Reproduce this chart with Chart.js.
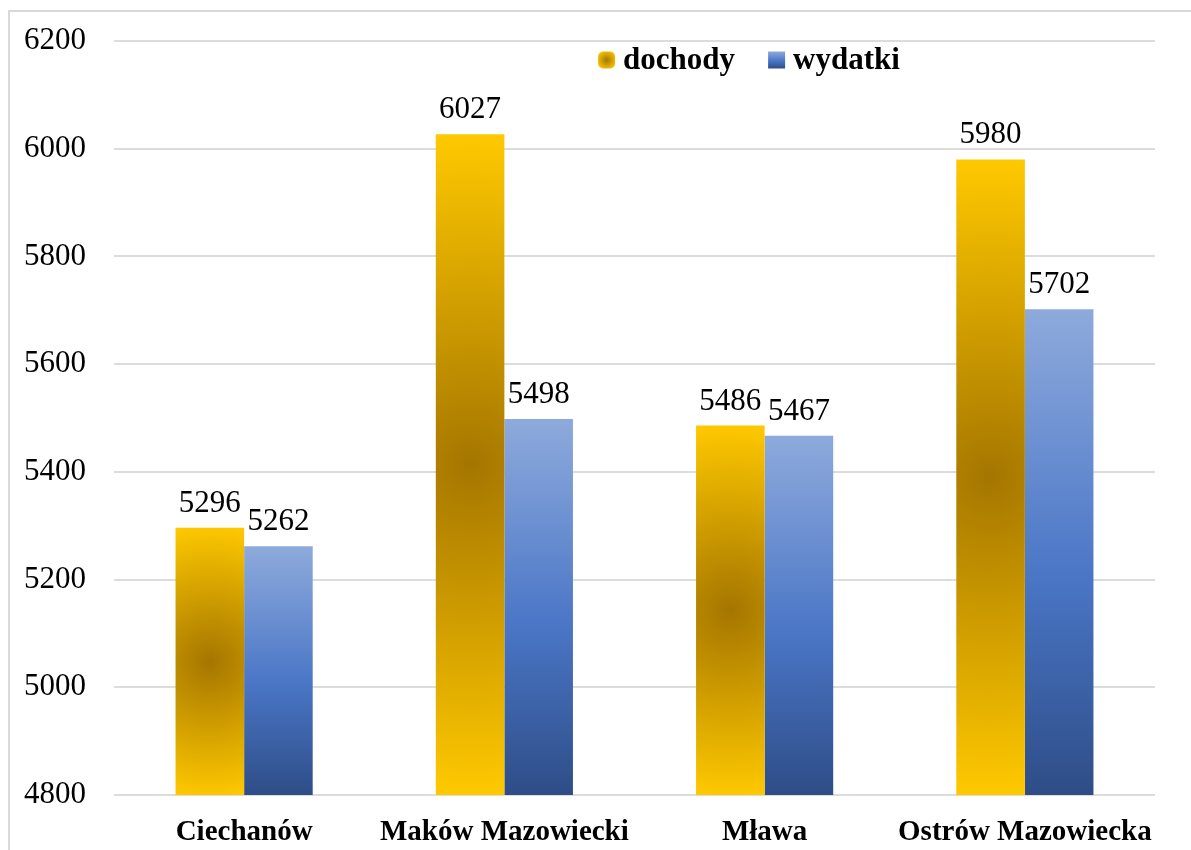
<!DOCTYPE html>
<html>
<head>
<meta charset="utf-8">
<script src="https://cdn.jsdelivr.net/npm/chart.js@4/dist/chart.umd.min.js"></script>
<style>
  html, body { margin: 0; padding: 0; background: #fff; overflow: hidden; }
  .wrap { position: relative; width: 1191px; height: 850px; }
  .frame { position: absolute; left: 8px; top: 10px; width: 1260px; height: 900px; border: 2px solid #d9d9d9; }
  canvas { position: absolute; left: 0; top: 0; }
</style>
</head>
<body>
<div class="wrap">
  <div class="frame"></div>
  <canvas id="chart" width="1191" height="850"></canvas>
</div>
<script>
const categories = ['Ciechanów', 'Maków Mazowiecki', 'Mława', 'Ostrów Mazowiecka'];
const dochody = [5296, 6027, 5486, 5980];
const wydatki = [5262, 5498, 5467, 5702];
const yMin = 4800;
const yMax = 6200;
const yStep = 200;

const FONT = '"Liberation Serif", "Times New Roman", serif';
const CAT_PCT = 0.527;

function barGeom(chart, index, value, slot) {
    const xs = chart.scales.x;
    const ys = chart.scales.y;
    if (!xs || !ys) return null;
    const bw = (xs.width / categories.length) * CAT_PCT / 2;
    const cx = xs.getPixelForValue(index) + (slot === 0 ? -bw / 2 : bw / 2);
    const top = ys.getPixelForValue(value);
    const base = ys.getPixelForValue(ys.min);
    if (![bw, cx, top, base].every(Number.isFinite) || base <= top) return null;
    return { cx, top, base, bw };
}

function goldFill(context) {
    const chart = context.chart;
    if (context.type !== 'data') return '#e0a800';
    const g = barGeom(chart, context.dataIndex, context.raw, 0);
    if (!g) return '#e0a800';
    const cy = (g.top + g.base) / 2;
    const r = Math.hypot((g.base - g.top) / 2, g.bw / 2);
    const grad = chart.ctx.createRadialGradient(g.cx, cy, 0, g.cx, cy, r);
    grad.addColorStop(0, '#a57600');
    grad.addColorStop(1, '#ffc900');
    return grad;
}

function blueFill(context) {
    const chart = context.chart;
    if (context.type !== 'data') return '#4472c4';
    const g = barGeom(chart, context.dataIndex, context.raw, 1);
    if (!g) return '#4472c4';
    const grad = chart.ctx.createLinearGradient(0, g.top, 0, g.base);
    grad.addColorStop(0, '#8eaadc');
    grad.addColorStop(0.55, '#4a76c6');
    grad.addColorStop(1, '#2e4d87');
    return grad;
}

// value labels above bars
const valueLabels = {
    id: 'valueLabels',
    afterDatasetsDraw(chart) {
        const ctx = chart.ctx;
        ctx.save();
        ctx.font = '31px ' + FONT;
        ctx.fillStyle = '#000';
        ctx.textAlign = 'center';
        ctx.textBaseline = 'alphabetic';
        chart.data.datasets.forEach((ds, di) => {
            chart.getDatasetMeta(di).data.forEach((el, i) => {
                ctx.fillText(String(ds.data[i]), el.x, el.y - 16);
            });
        });
        ctx.restore();
    }
};

// legend drawn inside the plot area
const insideLegend = {
    id: 'insideLegend',
    afterDraw(chart) {
        const ctx = chart.ctx;
        const area = chart.chartArea;
        const box = 17, gap = 8, itemGap = 33;
        ctx.save();
        ctx.font = 'bold 31px ' + FONT;
        const items = chart.data.datasets.map(ds => ({ label: ds.label, w: ctx.measureText(ds.label).width }));
        const total = items.reduce((s, it) => s + box + gap + it.w, 0) + itemGap * (items.length - 1);
        let x = area.left + area.width * 0.61 - total / 2;
        const cy = area.top + 19;
        items.forEach((it, i) => {
            if (i === 0) {
                const gr = ctx.createRadialGradient(x + box / 2, cy, 0, x + box / 2, cy, box / 2 + 2);
                gr.addColorStop(0, '#a57600');
                gr.addColorStop(1, '#ffc900');
                ctx.fillStyle = gr;
                ctx.beginPath();
                ctx.roundRect(x, cy - box / 2, box, box, 5);
                ctx.fill();
            } else {
                const gr = ctx.createLinearGradient(0, cy - box / 2, 0, cy + box / 2);
                gr.addColorStop(0, '#8eaadc');
                gr.addColorStop(0.55, '#4a76c6');
                gr.addColorStop(1, '#2e4d87');
                ctx.fillStyle = gr;
                ctx.fillRect(x, cy - box / 2, box, box);
            }
            x += box + gap;
            ctx.fillStyle = '#000';
            ctx.textAlign = 'left';
            ctx.textBaseline = 'middle';
            ctx.fillText(it.label, x, cy + 1);
            x += it.w + itemGap;
        });
        ctx.restore();
    }
};

new Chart(document.getElementById('chart'), {
    type: 'bar',
    data: {
        labels: categories,
        datasets: [{
            label: 'dochody',
            data: dochody,
            backgroundColor: goldFill,
            borderWidth: 0
        }, {
            label: 'wydatki',
            data: wydatki,
            backgroundColor: blueFill,
            borderWidth: 0
        }]
    },
    options: {
        responsive: false,
        animation: false,
        maintainAspectRatio: false,
        datasets: {
            bar: {
                barPercentage: 1,
                categoryPercentage: CAT_PCT
            }
        },
        layout: {
            padding: { left: 0, top: 41, right: 36, bottom: 0 }
        },
        scales: {
            x: {
                border: { display: false },
                grid: { display: false, drawTicks: false },
                ticks: {
                    color: '#000',
                    padding: 20,
                    font: { family: FONT, size: 29, weight: 'bold' }
                },
                afterFit: (scale) => { scale.height = 55; }
            },
            y: {
                min: yMin,
                max: yMax,
                border: { display: false },
                grid: { color: '#dcdcdc', lineWidth: 2, drawTicks: false },
                ticks: {
                    stepSize: yStep,
                    color: '#000',
                    padding: 28,
                    font: { family: FONT, size: 31 },
                    callback: (v) => String(v)
                },
                afterFit: (scale) => {
                    scale.width = 114;
                    scale.paddingTop = 0;
                    scale.paddingBottom = 0;
                }
            }
        },
        plugins: {
            legend: { display: false },
            tooltip: { enabled: false }
        }
    },
    plugins: [valueLabels, insideLegend]
});
</script>
</body>
</html>
